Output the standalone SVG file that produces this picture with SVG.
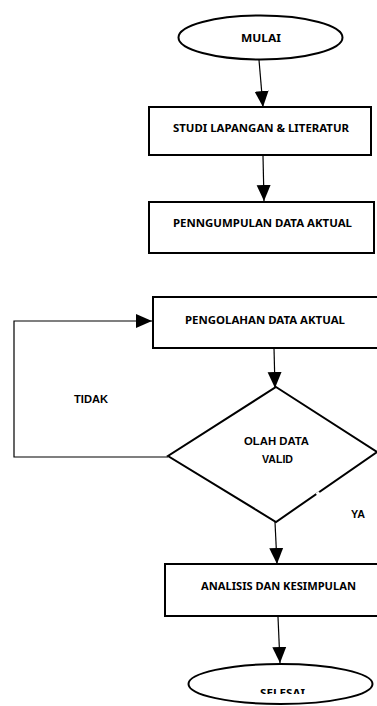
<svg xmlns="http://www.w3.org/2000/svg" width="377" height="706" viewBox="0 0 377 706">
<defs>
<style>
.shape{fill:#fff;stroke:#000;stroke-width:2}
.conn{fill:none;stroke:#000;stroke-width:1.2}
.t{font-family:"Noto Sans","Liberation Sans",sans-serif;font-weight:bold;font-size:10.5px;fill:#000;text-anchor:middle}
.a{font-family:"Liberation Sans",Arial,sans-serif;font-weight:bold;font-size:11px;fill:#000;text-anchor:middle}
</style>
<marker id="arr" markerUnits="userSpaceOnUse" markerWidth="16" markerHeight="16" viewBox="0 0 16 14" refX="16" refY="7" orient="auto">
<path d="M0,0 L16,7 L0,14 Z" fill="#000"/>
</marker>
<clipPath id="selclip"><rect x="0" y="0" width="377" height="694"/></clipPath>
</defs>
<g id="connectors">
<line class="conn" x1="259" y1="60" x2="263" y2="107" marker-end="url(#arr)"/>
<line class="conn" x1="263" y1="156" x2="264" y2="201" marker-end="url(#arr)"/>
<line class="conn" x1="274" y1="348" x2="275" y2="388" marker-end="url(#arr)"/>
<line class="conn" x1="275" y1="522" x2="277" y2="564" marker-end="url(#arr)"/>
<line class="conn" x1="278" y1="617" x2="280" y2="663" marker-end="url(#arr)"/>
<polyline class="conn" points="168,457 14,457 14,321 152,321" marker-end="url(#arr)"/>
</g>
<g id="mulai">
<ellipse class="shape" cx="260.5" cy="37.5" rx="82" ry="22"/>
<text class="t" x="261" y="41.5" textLength="40" lengthAdjust="spacingAndGlyphs">MULAI</text>
</g>
<g id="studi">
<rect class="shape" x="149" y="107" width="222" height="48"/>
<text class="t" x="261" y="131.5" textLength="176" lengthAdjust="spacingAndGlyphs">STUDI LAPANGAN &amp; LITERATUR</text>
</g>
<g id="pengumpulan">
<rect class="shape" x="149" y="202" width="225" height="51"/>
<text class="t" x="262.5" y="226.5" textLength="179" lengthAdjust="spacingAndGlyphs">PENNGUMPULAN DATA AKTUAL</text>
</g>
<g id="pengolahan">
<rect class="shape" x="153" y="297" width="230" height="51"/>
<text class="t" x="265" y="323.5" textLength="160" lengthAdjust="spacingAndGlyphs">PENGOLAHAN DATA AKTUAL</text>
</g>
<g id="keputusan">
<polygon class="shape" points="276,387 377,452 276,522 168,456"/>
<line x1="316.5" y1="494.5" x2="319.5" y2="492.5" stroke="#fff" stroke-width="3"/>
<text class="a" x="276.5" y="445" textLength="65" lengthAdjust="spacingAndGlyphs">OLAH DATA</text>
<text class="a" x="277.5" y="463" textLength="31" lengthAdjust="spacingAndGlyphs">VALID</text>
</g>
<g id="label-tidak">
<text class="a" x="91" y="403" textLength="34" lengthAdjust="spacingAndGlyphs">TIDAK</text>
</g>
<g id="label-ya">
<text class="a" x="358" y="518" textLength="14" lengthAdjust="spacingAndGlyphs">YA</text>
</g>
<g id="analisis">
<rect class="shape" x="165" y="564" width="220" height="52"/>
<text class="t" x="278.5" y="589.5" textLength="155" lengthAdjust="spacingAndGlyphs">ANALISIS DAN KESIMPULAN</text>
</g>
<g id="selesai">
<ellipse class="shape" cx="280.5" cy="684" rx="92" ry="20"/>
<text class="t" x="282.5" y="696.5" textLength="45" lengthAdjust="spacingAndGlyphs" clip-path="url(#selclip)">SELESAI</text>
</g>
</svg>
